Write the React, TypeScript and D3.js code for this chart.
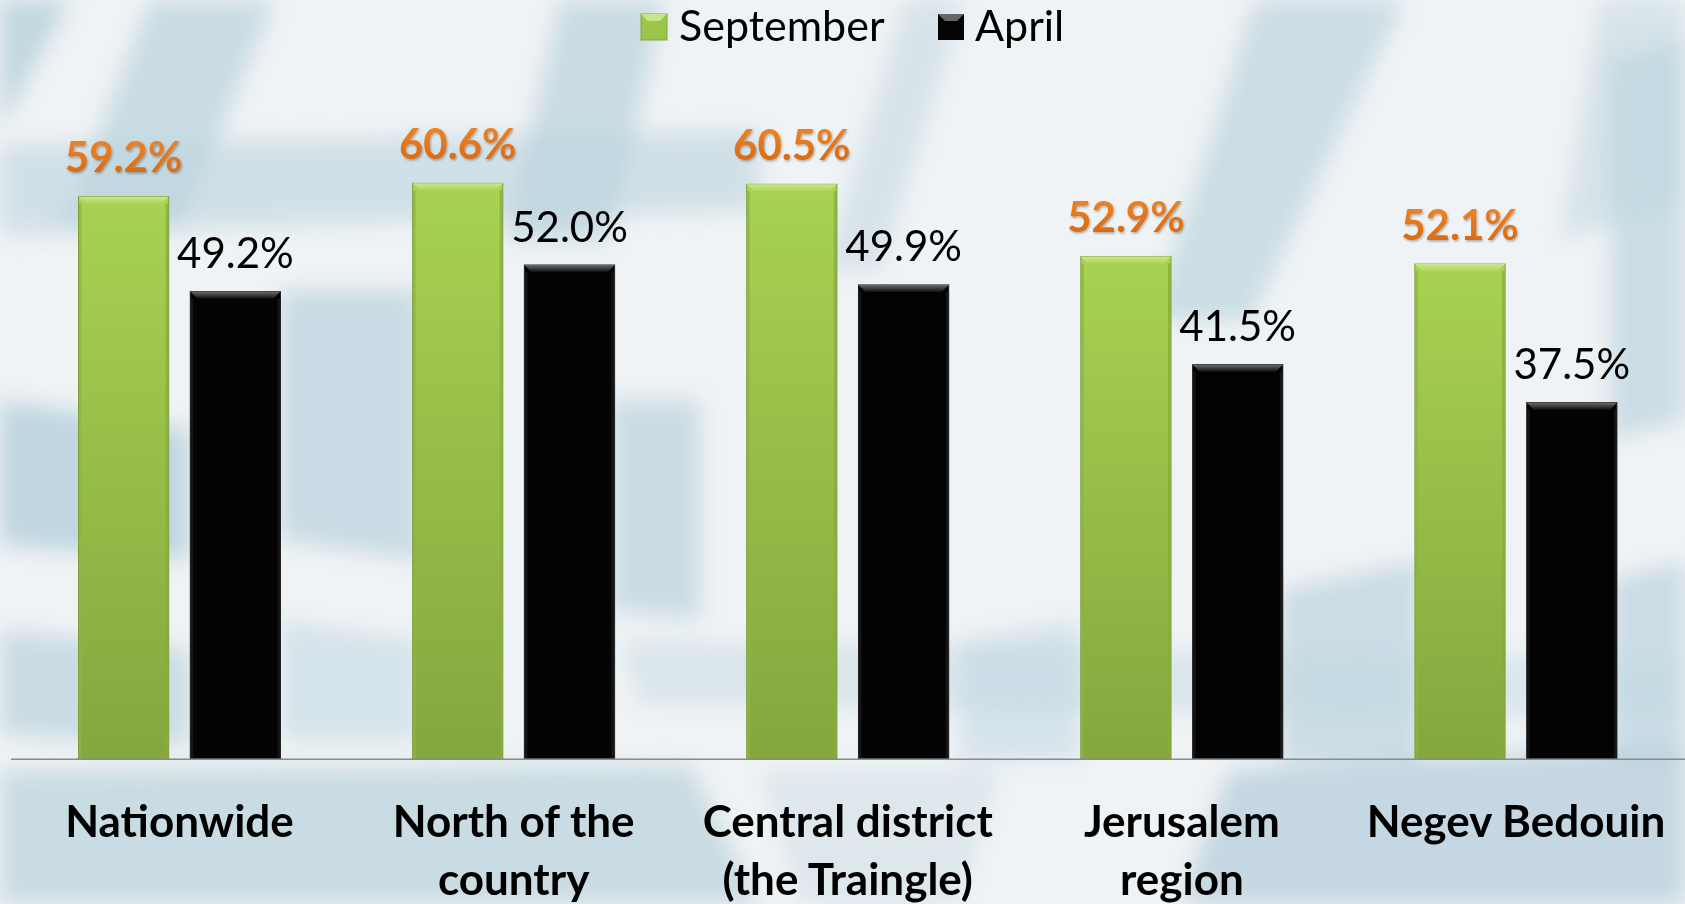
import React from "react";
import * as d3 from "d3";

const categories: string[][] = [
  ["Nationwide"],
  ["North of the", "country"],
  ["Central district", "(the Traingle)"],
  ["Jerusalem", "region"],
  ["Negev Bedouin"],
];
const seriesNames = ["September", "April"];
const september = [59.2, 60.6, 60.5, 52.9, 52.1];
const april = [49.2, 52.0, 49.9, 41.5, 37.5];

const W = 1685;
const H = 904;

export default function App() {
  const keys = categories.map((c) => c.join(" "));
  const x0 = d3.scaleBand<string>().domain(keys).range([12.5, 1683]).paddingInner(0).paddingOuter(0);
  const x1 = d3
    .scaleBand<string>()
    .domain(seriesNames)
    .range([66, 268])
    .paddingInner(0.193)
    .paddingOuter(0);
  const y = d3.scaleLinear().domain([0, 70]).range([758.7, 758.7 - 70 * 9.494]);
  const values = [september, april];
  const bw = x1.bandwidth();
  const bev = 7;

  const bgShapes: { pts: [number, number][]; c: string; o: number }[] = [
    { pts: [[0, 0], [70, 0], [0, 130]], c: "#b6cfda", o: 0.8 },
    { pts: [[150, 0], [275, 0], [180, 230], [60, 230]], c: "#bcd4de", o: 0.75 },
    { pts: [[560, 0], [665, 0], [610, 240], [505, 240]], c: "#bcd4de", o: 0.75 },
    { pts: [[905, 0], [965, 0], [880, 270], [825, 270]], c: "#c4d9e2", o: 0.6 },
    { pts: [[1255, 0], [1405, 0], [1250, 320], [1150, 320]], c: "#bcd4de", o: 0.7 },
    { pts: [[1600, 0], [1685, 0], [1685, 200], [1560, 240]], c: "#c4d8e1", o: 0.6 },
    { pts: [[0, 145], [760, 130], [760, 210], [0, 235]], c: "#bdd4de", o: 0.6 },
    { pts: [[0, 400], [190, 430], [190, 560], [0, 545]], c: "#b4cedb", o: 0.8 },
    { pts: [[0, 630], [190, 650], [190, 745], [0, 735]], c: "#b9d1dc", o: 0.7 },
    { pts: [[280, 290], [420, 290], [420, 560], [280, 540]], c: "#bcd3de", o: 0.75 },
    { pts: [[610, 400], [700, 400], [700, 620], [610, 610]], c: "#bad2dd", o: 0.7 },
    { pts: [[280, 620], [420, 640], [420, 740], [280, 740]], c: "#c0d7e1", o: 0.55 },
    { pts: [[1280, 590], [1420, 560], [1420, 760], [1280, 760]], c: "#bad3de", o: 0.7 },
    { pts: [[960, 640], [1080, 620], [1080, 760], [960, 760]], c: "#c0d7e1", o: 0.55 },
    { pts: [[1610, 60], [1685, 40], [1685, 420], [1610, 440]], c: "#bcd4de", o: 0.7 },
    { pts: [[1610, 580], [1685, 560], [1685, 760], [1610, 760]], c: "#bad3de", o: 0.7 },
    { pts: [[620, 640], [1685, 660], [1685, 720], [640, 705]], c: "#bfd6e0", o: 0.45 },
    { pts: [[0, 770], [690, 765], [760, 904], [0, 904]], c: "#b9d1dc", o: 0.7 },
    { pts: [[1230, 770], [1685, 745], [1685, 904], [1180, 904]], c: "#b5cedb", o: 0.75 },
    { pts: [[760, 770], [1000, 770], [960, 904], [800, 904]], c: "#c6dae3", o: 0.45 },
  ];

  return (
    <svg
      width={W}
      height={H}
      style={{ position: "absolute", left: 0, top: 0, display: "block" }}
      xmlns="http://www.w3.org/2000/svg"
    >
      <defs>
        <filter id="blur" x="-20%" y="-20%" width="140%" height="140%">
          <feGaussianBlur stdDeviation="11" />
        </filter>
        <linearGradient id="gGreen" x1="0" y1="0" x2="0" y2="1">
          <stop offset="0%" stopColor="#a8d252" />
          <stop offset="100%" stopColor="#84a73e" />
        </linearGradient>
        <linearGradient id="gGreenTop" x1="0" y1="0" x2="0" y2="1">
          <stop offset="0%" stopColor="#cbe68e" />
          <stop offset="100%" stopColor="#acd55a" />
        </linearGradient>
        <linearGradient id="gBlackTop" x1="0" y1="0" x2="0" y2="1">
          <stop offset="0%" stopColor="#6a6a6a" />
          <stop offset="100%" stopColor="#111" />
        </linearGradient>
        <linearGradient id="orange" x1="0" y1="0" x2="0" y2="1">
          <stop offset="0%" stopColor="#f08a2c" />
          <stop offset="100%" stopColor="#d8640c" />
        </linearGradient>
        <filter id="tshadow" x="-10%" y="-20%" width="120%" height="140%">
          <feDropShadow dx="1" dy="1.5" stdDeviation="1.2" floodColor="#000" floodOpacity="0.3" />
        </filter>
      </defs>
      <rect x={0} y={0} width={W} height={H} fill="#f0f3f5" />
      <g filter="url(#blur)">
        {bgShapes.map((s, i) => (
          <polygon key={i} points={s.pts.map((p) => p.join(",")).join(" ")} fill={s.c} opacity={s.o} />
        ))}
      </g>

      {/* Legend */}
      <g fontFamily="Lato, 'Open Sans', sans-serif" fontSize={43} fill="#000">
        <rect x={641} y={14} width={26} height={26} fill="#9cc64b" stroke="#7fa53a" strokeWidth={1} />
        <polygon points="641,14 667,14 660,21 648,21" fill="#c8e58a" />
        <text x={679} y={41}>{seriesNames[0]}</text>
        <rect x={938} y={14} width={26} height={26} fill="#050505" />
        <polygon points="938,14 964,14 957,21 945,21" fill="#666" />
        <text x={975} y={41}>{seriesNames[1]}</text>
      </g>

      {/* Bars */}
      {categories.map((c, i) => {
        const gx = x0(keys[i]) as number;
        return (
          <g key={i}>
            {seriesNames.map((s, si) => {
              const v = values[si][i];
              const bx = gx + (x1(s) as number);
              const by = y(v);
              const bh = y(0) - by;
              const green = si === 0;
              return (
                <g key={s}>
                  <rect
                    x={bx}
                    y={by}
                    width={bw}
                    height={bh}
                    fill={green ? "url(#gGreen)" : "#030303"}
                    stroke={green ? "#7f9f3a" : "#222"}
                    strokeWidth={1}
                  />
                  <polygon
                    points={`${bx},${by} ${bx + bw},${by} ${bx + bw - bev},${by + bev} ${bx + bev},${by + bev}`}
                    fill={green ? "url(#gGreenTop)" : "url(#gBlackTop)"}
                  />
                  <rect x={bx + 0.5} y={by + bev} width={2.5} height={bh - bev} fill={green ? "#8db543" : "#1a1a1a"} opacity={0.8} />
                  <rect x={bx + bw - 3} y={by + bev} width={2.5} height={bh - bev} fill={green ? "#86ad3f" : "#1a1a1a"} opacity={0.8} />
                  <text
                    x={bx + bw / 2}
                    y={by - (green ? 24.5 : 23.5)}
                    textAnchor="middle"
                    fontFamily="Lato, 'Open Sans', sans-serif"
                    fontSize={42}
                    fontWeight={green ? 700 : 400}
                    fill={green ? "url(#orange)" : "#000"}
                    filter={green ? "url(#tshadow)" : undefined}
                  >
                    {v.toFixed(1) + "%"}
                  </text>
                </g>
              );
            })}
            <text
              x={gx + x0.bandwidth() / 2}
              y={837}
              textAnchor="middle"
              fontFamily="Lato, 'Open Sans', sans-serif"
              fontSize={44}
              fontWeight={700}
              fill="#000"
            >
              {c.map((line, li) => (
                <tspan key={li} x={gx + x0.bandwidth() / 2} dy={li === 0 ? 0 : 58}>
                  {line}
                </tspan>
              ))}
            </text>
          </g>
        );
      })}

      {/* Axis line */}
      <line x1={11} x2={W} y1={y(0) + 0.5} y2={y(0) + 0.5} stroke="#8a8a8a" strokeWidth={1.5} />
    </svg>
  );
}
